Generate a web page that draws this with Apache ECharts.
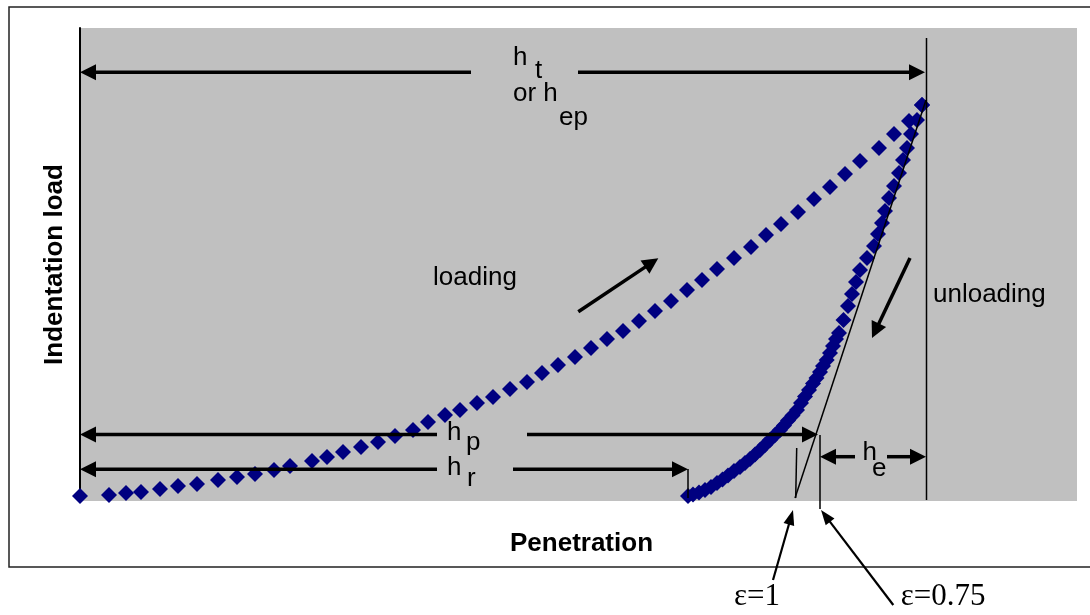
<!DOCTYPE html>
<html>
<head>
<meta charset="utf-8">
<script src="https://cdn.jsdelivr.net/npm/echarts@6/dist/echarts.min.js"></script>
<style>
  html, body { margin: 0; padding: 0; background: #fff; }
  #chart { width: 1090px; height: 615px; }
</style>
</head>
<body>
<div id="chart"></div>
<script>
// Loading branch: [penetration, load]
const loadingCurve = [
  [0, 0], [29, 1], [46, 3], [61, 4], [80, 7], [98, 10], [117, 12], [138, 16],
  [157, 19], [175, 22], [194, 26], [210, 30], [232, 35], [247, 39], [263, 44],
  [281, 49], [298, 54], [315, 60], [333, 66], [348, 74], [365, 81], [380, 86],
  [397, 93], [413, 99], [430, 107], [447, 114], [462, 123], [478, 131],
  [495, 139], [511, 148], [527, 157], [543, 165], [559, 175], [575, 185],
  [591, 195], [607, 206], [622, 216], [637, 227], [654, 238], [671, 249],
  [686, 261], [701, 272], [718, 284], [734, 297], [750, 309], [765, 322],
  [780, 335], [799, 348], [814, 362], [829, 375], [842, 391]
];

// Unloading branch: [penetration, load]
const unloadingCurve = [
  [842, 391], [837, 376], [831, 362], [827, 348], [823, 336], [819, 323],
  [814, 310], [809, 298], [805, 285], [802, 273], [798, 262], [794, 250],
  [787, 238], [780, 226], [776, 214], [772, 202], [768, 190], [763.5, 176],
  [759, 163], [756, 157], [753, 150], [750, 143], [746.7, 136], [743, 130],
  [740, 124], [736.5, 118], [733, 112.5], [729, 106], [725, 99.5], [721, 93],
  [717, 86], [712.5, 80.5], [708, 75.5], [704, 70.5], [700, 66], [695, 61],
  [690, 56], [685, 51], [680, 46], [675, 41.5], [670, 37], [665, 33],
  [660, 29], [654, 25], [648, 20.5], [642.5, 16.5], [637, 13], [631, 9],
  [625, 6], [619, 3.5], [613, 1.5], [608, 0]
];

// Dimension arrows [x1, y1, x2, y2], head at the second point
const dimensionArrows = [
  [391, 423.7, 0, 423.7],     // h_t, left half
  [498, 423.7, 845, 423.7],   // h_t, right half
  [357, 61.5, 0, 61.5],       // h_p, left half
  [447, 61.5, 738, 61.5],     // h_p, right half
  [357, 26.7, 0, 26.7],       // h_r, left half
  [433, 26.7, 608, 26.7],     // h_r, right half
  [775, 39.3, 740, 39.3],     // h_e, left half
  [807, 39.3, 846, 39.3],     // h_e, right half
  [498.3, 184.3, 578.3, 237.7], // loading direction
  [830, 238, 792, 158]        // unloading direction
];

// Leader arrows pointing at the two tangent feet
const leaderArrows = [
  [693, -84, 713, -14],       // epsilon = 1
  [813.3, -109, 741, -14]     // epsilon = 0.75
];

// Plain guide lines [x1, y1, x2, y2]
const guideLines = [
  [846.5, 458, 846.5, -4],    // maximum depth
  [608, 27, 608, -2],         // residual depth
  [740, 61, 740, -13],        // contact depth, epsilon = 0.75
  [846, 396, 715, -2],        // unloading tangent
  [716.7, 48, 715.7, -2]      // contact depth, epsilon = 1
];

// Annotation texts and anchor points [x, y] (left edge, text middle)
const noteTexts = ['h', 't', 'or h', 'ep', 'h', 'p', 'h', 'r', 'h', 'e', 'loading', 'unloading', 'ε=1', 'ε=0.75'];
const notePoints = [
  [433, 438], [455, 425], [433, 402], [479, 378],
  [367, 63.3], [386, 53], [367, 28.3], [387, 17],
  [782.5, 43.3], [792, 26.7],
  [353, 218.3], [853, 201],
  [654, -100.7], [820.7, -100.7]
];
const noteSerif = [false, false, false, false, false, false, false, false, false, false, false, false, true, true];

const chart = echarts.init(document.getElementById('chart'), null, { renderer: 'canvas' });

function arrowRenderer(lineWidth, headLen, headWid) {
  return function (params, api) {
    const p1 = api.coord([api.value(0), api.value(1)]);
    const p2 = api.coord([api.value(2), api.value(3)]);
    const dx = p2[0] - p1[0], dy = p2[1] - p1[1];
    const len = Math.hypot(dx, dy);
    const ux = dx / len, uy = dy / len;
    const nx = -uy, ny = ux;
    const bx = p2[0] - ux * headLen, by = p2[1] - uy * headLen;
    return {
      type: 'group',
      children: [
        { type: 'line', shape: { x1: p1[0], y1: p1[1], x2: bx + ux, y2: by + uy },
          style: { stroke: '#000', lineWidth: lineWidth } },
        { type: 'polygon', shape: { points: [[p2[0], p2[1]],
            [bx + nx * headWid / 2, by + ny * headWid / 2],
            [bx - nx * headWid / 2, by - ny * headWid / 2]] },
          style: { fill: '#000' } }
      ]
    };
  };
}

function lineRenderer(params, api) {
  const p1 = api.coord([api.value(0), api.value(1)]);
  const p2 = api.coord([api.value(2), api.value(3)]);
  return { type: 'line', shape: { x1: p1[0], y1: p1[1], x2: p2[0], y2: p2[1] },
    style: { stroke: '#000', lineWidth: 1.5 } };
}

function textRenderer(params, api) {
  const i = params.dataIndex;
  const p = api.coord([api.value(0), api.value(1)]);
  const serif = noteSerif[i];
  return {
    type: 'text', x: p[0], y: p[1],
    style: {
      text: noteTexts[i],
      font: serif ? '31px "Liberation Serif"' : '26px "Liberation Sans"',
      fill: '#000', textAlign: 'left', textVerticalAlign: 'middle'
    }
  };
}

chart.setOption({
  animation: false,
  backgroundColor: '#ffffff',
  graphic: [{
    type: 'rect', z: 0,
    shape: { x: 9, y: 7, width: 1100, height: 560 },
    style: { fill: 'none', stroke: '#222', lineWidth: 1.5 }
  }],
  grid: {
    left: 80, top: 28, width: 997, height: 473,
    show: true, backgroundColor: '#c0c0c0', borderWidth: 0
  },
  xAxis: {
    type: 'value', min: 0, max: 997,
    name: 'Penetration', nameLocation: 'middle', nameGap: 30,
    nameTextStyle: { fontFamily: 'Liberation Sans', fontSize: 26, fontWeight: 'bold', color: '#000', padding: [0, 0, 0, 6] },
    axisLine: { show: false }, axisTick: { show: false }, axisLabel: { show: false },
    splitLine: { show: false }
  },
  yAxis: {
    type: 'value', min: -5, max: 468,
    name: 'Indentation load', nameLocation: 'middle', nameGap: 12, nameRotate: 90,
    nameTextStyle: { fontFamily: 'Liberation Sans', fontSize: 26, fontWeight: 'bold', color: '#000' },
    axisLine: { show: true, onZero: false, lineStyle: { color: '#000', width: 2 } },
    axisTick: { show: false }, axisLabel: { show: false }, splitLine: { show: false }
  },
  series: [
    {
      name: 'loading', type: 'scatter', data: loadingCurve, clip: false,
      symbol: 'diamond', symbolSize: 16, itemStyle: { color: '#000080', opacity: 1 }, z: 3
    },
    {
      name: 'unloading', type: 'scatter', data: unloadingCurve, clip: false,
      symbol: 'diamond', symbolSize: 16, itemStyle: { color: '#000080', opacity: 1 }, z: 3
    },
    {
      type: 'custom', data: guideLines, clip: false, z: 5,
      encode: { x: [0, 2], y: [1, 3] }, renderItem: lineRenderer
    },
    {
      type: 'custom', data: dimensionArrows, clip: false, z: 6,
      encode: { x: [0, 2], y: [1, 3] }, renderItem: arrowRenderer(3.5, 16, 16)
    },
    {
      type: 'custom', data: leaderArrows, clip: false, z: 6,
      encode: { x: [0, 2], y: [1, 3] }, renderItem: arrowRenderer(2.2, 15, 11)
    },
    {
      type: 'custom', data: notePoints, clip: false, z: 7,
      encode: { x: 0, y: 1 }, renderItem: textRenderer
    }
  ]
});
</script>
</body>
</html>
